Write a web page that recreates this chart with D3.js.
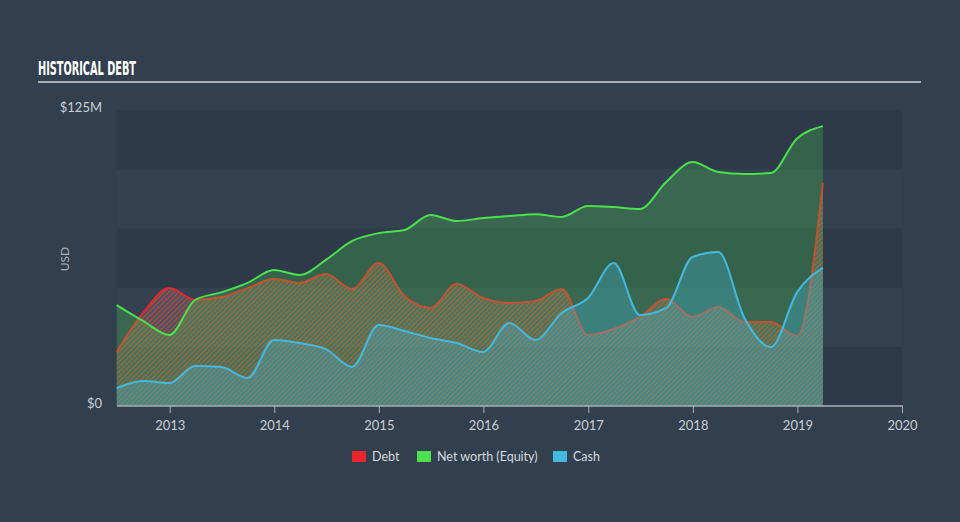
<!doctype html>
<html>
  <head>
    <script src="https://cdnjs.cloudflare.com/ajax/libs/d3/7.8.5/d3.min.js" type="text/JavaScript"></script>
    <style>
      body { margin: 0; background: #323f4f; }
      svg { display: block; }
    </style>
  </head>
  <body>
    <div id="viz">
      <svg style="width:960px;height:522px;"></svg>
    </div>
    <script>
      // quarter ends, mid 2012 to Q1 2019
      var dates = ["2012-06-30","2012-09-30","2012-12-31","2013-03-31","2013-06-30","2013-09-30","2013-12-31",
                   "2014-03-31","2014-06-30","2014-09-30","2014-12-31","2015-03-31","2015-06-30","2015-09-30",
                   "2015-12-31","2016-03-31","2016-06-30","2016-09-30","2016-12-31","2017-03-31","2017-06-30",
                   "2017-09-30","2017-12-31","2018-03-31","2018-06-30","2018-09-30","2018-12-31","2019-03-31"];
      // values in $M
      var debt   = [22.8, 39.3, 49.8, 44.8, 46.0, 49.8, 53.6, 52.0, 55.7, 49.4, 60.4, 46.5, 41.4, 51.5,
                    45.6, 43.5, 44.3, 49.4, 30.0, 32.5, 37.6, 45.2, 37.6, 41.8, 35.5, 35.5, 29.6, 94.2];
      var equity = [42.6, 35.9, 30.0, 44.8, 48.0, 52.0, 57.4, 55.3, 61.7, 69.7, 73.0, 74.3, 80.7, 78.1,
                    79.4, 80.2, 81.0, 79.8, 84.5, 84.0, 83.2, 94.6, 103.0, 98.8, 98.0, 98.4, 113.0, 118.2];
      var cash   = [7.6, 10.6, 9.7, 16.9, 16.5, 11.8, 27.9, 26.6, 24.0, 16.5, 34.2, 31.7, 28.7, 26.6,
                    22.8, 35.0, 27.9, 39.3, 45.6, 60.4, 38.4, 41.4, 62.9, 65.0, 37.2, 24.9, 48.1, 58.3];
      var yTicks = [0, 125];
      var xTicks = [2013, 2014, 2015, 2016, 2017, 2018, 2019, 2020];
      var legendItems = ["Debt", "Net worth (Equity)", "Cash"];
      var colors = ["#e8262b", "#4ce04c", "#45b8e0"];

      var parse = d3.timeParse("%Y-%m-%d");
      var when = dates.map(parse);

      var plotL = 117, plotR = 902, plotT = 110, plotB = 406;
      var x = d3.scaleTime()
        .domain([new Date(2012, 6, 1), new Date(2020, 0, 1)])
        .range([plotL, plotR]);
      var y = d3.scaleLinear().domain([0, 125]).range([plotB, plotT]);

      var svg = d3.select("svg");

      // title
      svg.append("text")
        .attr("x", 38).attr("y", 75)
        .attr("textLength", 98).attr("lengthAdjust", "spacingAndGlyphs")
        .style("font-family", "'Liberation Sans Narrow', 'DejaVu Sans Condensed', sans-serif")
        .style("font-weight", "bold").style("font-size", "19px")
        .style("fill", "#ffffff")
        .text("HISTORICAL DEBT");
      svg.append("line")
        .attr("x1", 38).attr("x2", 921).attr("y1", 82).attr("y2", 82)
        .style("stroke", "#a7afb8").style("stroke-width", 2);

      // background bands every $25M
      var bands = d3.range(0, 125, 25);
      svg.selectAll("rect.band")
        .data(bands)
        .enter()
        .append("rect")
          .attr("class", "band")
          .attr("x", plotL).attr("width", plotR - plotL)
          .attr("y", d => y(d + 25)).attr("height", d => y(d) - y(d + 25))
          .style("fill", (d, i) => i % 2 == 0 ? "#2e3a4a" : "#344151");

      // hatch for debt
      var defs = svg.append("defs");
      var pat = defs.append("pattern")
        .attr("id", "hatch")
        .attr("patternUnits", "userSpaceOnUse")
        .attr("width", 3.5).attr("height", 3.5)
        .attr("patternTransform", "rotate(45)");
      pat.append("rect").attr("width", 3.5).attr("height", 3.5).style("fill", "#8a7078").style("opacity", 0.35);
      pat.append("line")
        .attr("x1", 0).attr("y1", 0).attr("x2", 0).attr("y2", 3.5)
        .style("stroke", "#e3452f").style("stroke-width", 2).style("opacity", 0.72);

      function area(vals) {
        return d3.area()
          .x((d, i) => x(when[i]))
          .y0(y(0))
          .y1(d => y(d))
          .curve(d3.curveMonotoneX)(vals);
      }
      function line(vals) {
        return d3.line()
          .x((d, i) => x(when[i]))
          .y(d => y(d))
          .curve(d3.curveMonotoneX)(vals);
      }

      // debt
      svg.append("path").attr("d", area(debt)).style("fill", "url(#hatch)");
      svg.append("path").attr("d", line(debt))
        .style("fill", "none").style("stroke", colors[0]).style("stroke-width", 2);
      // equity
      svg.append("path").attr("d", area(equity))
        .style("fill", colors[1]).style("fill-opacity", 0.24);
      svg.append("path").attr("d", line(equity))
        .style("fill", "none").style("stroke", colors[1]).style("stroke-width", 2);
      // cash
      svg.append("path").attr("d", area(cash))
        .style("fill", colors[2]).style("fill-opacity", 0.3);
      svg.append("path").attr("d", line(cash))
        .style("fill", "none").style("stroke", colors[2]).style("stroke-width", 2);

      // x axis
      var xAxis = d3.axisBottom(x)
        .tickValues(xTicks.map(t => new Date(t, 0, 1)))
        .tickFormat(d3.timeFormat("%Y"))
        .tickSize(7).tickSizeOuter(0);
      var gx = svg.append("g")
        .attr("transform", "translate(0," + plotB + ")")
        .call(xAxis);
      gx.select(".domain").attr("d", "M" + plotL + ",0H" + (plotR + 1))
        .style("stroke", "#a7afb8").style("stroke-width", 1.5);
      gx.selectAll(".tick line").style("stroke", "#a7afb8");
      gx.selectAll("text")
        .attr("dy", "1.05em")
        .style("font-family", "Lato, sans-serif").style("font-size", "13px")
        .style("fill", "#c9ced4");

      // y labels
      svg.selectAll("text.ylab")
        .data(yTicks)
        .enter()
        .append("text")
          .attr("class", "ylab")
          .attr("x", 102).attr("y", d => y(d) + 2)
          .attr("text-anchor", "end")
          .style("font-family", "Lato, sans-serif").style("font-size", "13px")
          .style("fill", "#c9ced4")
          .text(d => d == 0 ? "$0" : "$" + d + "M");

      svg.append("text")
        .attr("transform", "translate(69,259) rotate(-90)")
        .attr("text-anchor", "middle")
        .style("font-family", "Lato, sans-serif").style("font-size", "12px")
        .style("fill", "#aab1b9")
        .text("USD");

      // legend
      var legendX = [352, 417, 553];
      var lg = svg.selectAll("g.leg")
        .data(legendItems)
        .enter()
        .append("g")
          .attr("class", "leg")
          .attr("transform", (d, i) => "translate(" + legendX[i] + ",451)");
      lg.append("rect")
        .attr("width", 14).attr("height", 11)
        .style("fill", (d, i) => colors[i]);
      lg.append("text")
        .attr("x", 20).attr("y", 10)
        .style("font-family", "Lato, sans-serif").style("font-size", "12.5px")
        .style("fill", "#d5d9de")
        .text(d => d);
    </script>
  </body>
</html>
